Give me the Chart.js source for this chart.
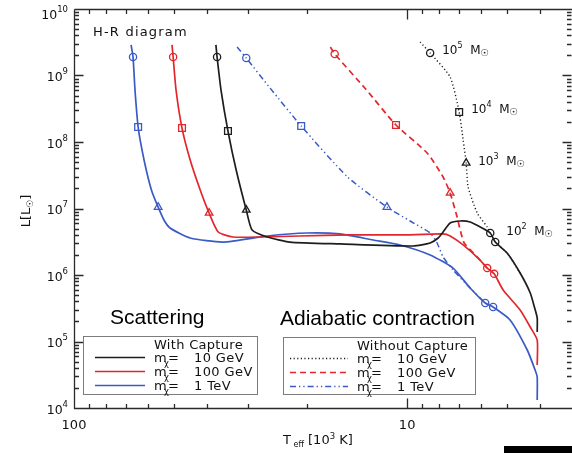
<!DOCTYPE html>
<html>
<head>
<meta charset="utf-8">
<title>H-R diagram</title>
<script src="https://cdn.jsdelivr.net/npm/chart.js@4.4.1/dist/chart.umd.min.js"></script>
<style>
  html, body { margin: 0; padding: 0; background: #fff; }
  #wrap { position: relative; width: 572px; height: 453px; overflow: hidden; }
  #hr { display: block; }
  .strip { position: absolute; left: 504px; top: 446px; width: 68px; height: 7px; background: #000; }
</style>
</head>
<body>
<div id="wrap">
  <canvas id="hr" width="572" height="453"></canvas>
  <div class="strip"></div>
</div>
<script>
(function () {
  // T_eff in units of 10^3 K, L in solar luminosities
  var blackCapT = [37.5, 37.2, 36.2, 34.5, 32.6, 30.4, 29.2, 26.3, 22.5, 15.9, 9.59, 8.53, 8.07, 7.80, 7.43, 6.93, 6.47, 6.04, 5.63, 5.44, 5.01, 4.58, 4.27, 4.15, 4.07, 4.07];
  var blackCapL = [2.88e9, 1.90e9, 6.05e8, 1.46e8, 3.79e7, 9.49e6, 4.75e6, 3.73e6, 3.13e6, 2.93e6, 2.73e6, 3.03e6, 3.60e6, 4.43e6, 6.05e6, 6.49e6, 6.27e6, 5.27e6, 4.28e6, 3.13e6, 2.14e6, 1.07e6, 5.36e5, 3.30e5, 2.26e5, 1.39e5];
  var blackCapMarks = [[1, 'circle'], [3, 'rect'], [5, 'triangle'], [18, 'circle'], [19, 'circle']];

  var redCapT = [50.8, 50.4, 49.4, 47.4, 44.8, 41.8, 39.3, 36.9, 33.3, 27.6, 21.0, 14.8, 10.5, 7.80, 7.43, 6.79, 6.04, 5.75, 5.48, 5.15, 4.58, 4.27, 4.07, 4.07];
  var redCapL = [2.88e9, 1.90e9, 6.05e8, 1.62e8, 5.36e7, 1.90e7, 8.55e6, 4.43e6, 3.73e6, 3.73e6, 3.86e6, 4.00e6, 4.00e6, 4.14e6, 3.86e6, 2.83e6, 1.68e6, 1.27e6, 1.04e6, 5.95e5, 2.98e5, 1.65e5, 1.05e5, 4.43e4];
  var redCapMarks = [[1, 'circle'], [3, 'rect'], [6, 'triangle'], [17, 'circle'], [18, 'circle']];

  var blueCapT = [67.4, 66.5, 65.6, 64.2, 62.5, 60.4, 58.3, 55.9, 53.7, 51.5, 44.8, 35.7, 26.3, 20.0, 15.9, 12.65, 10.5, 8.53, 7.28, 6.47, 5.83, 5.52, 4.91, 4.36, 4.13, 4.07, 4.07];
  var blueCapL = [2.88e9, 1.90e9, 6.05e8, 1.68e8, 7.59e7, 3.42e7, 1.77e7, 1.05e7, 6.71e6, 5.09e6, 3.60e6, 3.13e6, 3.86e6, 4.28e6, 4.14e6, 3.36e6, 2.83e6, 2.00e6, 1.27e6, 6.38e5, 3.79e5, 3.30e5, 2.11e5, 7.45e4, 3.73e4, 2.93e4, 1.32e4];
  var blueCapMarks = [[1, 'circle'], [3, 'rect'], [7, 'triangle'], [20, 'circle'], [21, 'circle']];

  var blackNoCapT = [9.14, 8.53, 7.43, 6.98, 6.79, 6.65, 6.56, 6.16, 5.75, 5.63, 5.44, 5.01, 4.58];
  var blackNoCapL = [3.19e9, 2.18e9, 9.49e8, 2.83e8, 1.07e8, 4.83e7, 2.10e7, 8.55e6, 5.27e6, 4.28e6, 3.13e6, 2.14e6, 1.07e6];
  var blackNoCapMarks = [[1, 'circle'], [3, 'rect'], [5, 'triangle']];

  var redNoCapT = [17.0, 16.5, 13.4, 10.8, 8.71, 7.80, 7.43, 7.08, 6.93, 6.74, 6.20, 5.75];
  var redNoCapL = [2.68e9, 2.11e9, 6.49e8, 1.80e8, 6.83e7, 2.98e7, 1.71e7, 7.45e6, 4.75e6, 3.03e6, 1.93e6, 1.27e6];
  var redNoCapMarks = [[1, 'circle'], [3, 'rect'], [6, 'triangle']];

  var blueNoCapT = [32.4, 30.4, 25.8, 20.8, 15.1, 11.5, 9.80, 8.53, 8.13, 7.80, 7.28, 6.47, 5.83];
  var blueNoCapL = [2.68e9, 1.83e9, 6.49e8, 1.74e8, 2.98e7, 1.05e7, 6.49e6, 4.28e6, 3.03e6, 1.87e6, 1.19e6, 6.38e5, 3.79e5];
  var blueNoCapMarks = [[1, 'circle'], [3, 'rect'], [5, 'triangle']];

  // axis ticks
  var yDecades = [4, 5, 6, 7, 8, 9, 10];
  var xMajor = [100, 10];
  var xMajorLabels = ['100', '10'];
  var xMinor = [90, 80, 70, 60, 50, 40, 30, 20, 9, 8, 7, 6, 5, 4];

  // stellar masses along the 10 GeV track (index into blackNoCap)
  var massExp = ['5', '4', '3', '2'];
  var massAt = [1, 3, 5, 9];

  var massNames = ['10 GeV', '100 GeV', '1 TeV'];

  var FONT = '"DejaVu Sans", sans-serif';
  var SANS = '"Liberation Sans", Arial, sans-serif';
  var INK = '#1d1d1d';
  var RED = '#e2272c';
  var BLUE = '#3a5ac6';
  var FRAME = '#2a2a2a';
  var DOT = [1.2, 2.4];
  var DASH = [6, 4];
  var DASHDOT = [6, 3, 1.3, 3, 1.3, 3];
  var MARK_R = { circle: 3.6, rect: 4.8, triangle: 4.4 };

  function makeSet(label, ts, ls, marks, color, dash, width) {
    var style = ts.map(function () { return null; });
    marks.forEach(function (m) { style[m[0]] = m[1]; });
    return {
      label: label,
      data: ts.map(function (t, i) { return { x: t, y: ls[i] }; }),
      borderColor: color,
      borderWidth: width,
      borderDash: dash,
      pointStyle: style.map(function (s) { return s || 'circle'; }),
      pointRadius: style.map(function (s) { return s ? MARK_R[s] : 0; }),
      pointHoverRadius: 0,
      pointBorderColor: color,
      pointBackgroundColor: 'rgba(0,0,0,0)',
      pointBorderWidth: 1.3,
      tension: 0.2,
      fill: false
    };
  }

  // text made of pieces in different sizes: [text, size, dy, letterSpacing]
  function runsWidth(ctx, parts, family) {
    var w = 0;
    parts.forEach(function (p) {
      ctx.font = p[1] + 'px ' + (family || FONT);
      ctx.letterSpacing = (p[3] || 0) + 'px';
      w += ctx.measureText(p[0]).width;
    });
    ctx.letterSpacing = '0px';
    return w;
  }

  function runs(ctx, x, y, parts, family) {
    parts.forEach(function (p) {
      ctx.font = p[1] + 'px ' + (family || FONT);
      ctx.letterSpacing = (p[3] || 0) + 'px';
      ctx.fillText(p[0], x, y + (p[2] || 0));
      x += ctx.measureText(p[0]).width;
    });
    ctx.letterSpacing = '0px';
    return x;
  }

  function crisp(v) { return Math.round(v) + 0.5; }

  function drawFrame(chart) {
    var ctx = chart.ctx, a = chart.chartArea;
    var xs = chart.scales.x, ys = chart.scales.y;
    var left = crisp(a.left), top = crisp(a.top), bottom = crisp(a.bottom), right = a.right - 0.5;

    ctx.save();
    ctx.strokeStyle = FRAME;
    ctx.lineWidth = 1.3;
    ctx.beginPath();
    ctx.moveTo(left, top);
    ctx.lineTo(left, bottom);
    ctx.lineTo(a.right, bottom);
    ctx.moveTo(left, top);
    ctx.lineTo(a.right, top);

    function yTick(v, len) {
      var y = crisp(ys.getPixelForValue(v));
      ctx.moveTo(left, y); ctx.lineTo(left + len, y);
      ctx.moveTo(right, y); ctx.lineTo(right - len, y);
    }
    function xTick(v, len) {
      var x = crisp(xs.getPixelForValue(v));
      ctx.moveTo(x, bottom); ctx.lineTo(x, bottom - len);
      ctx.moveTo(x, top); ctx.lineTo(x, top + len);
    }

    yDecades.forEach(function (e, i) {
      var base = Math.pow(10, e);
      yTick(base, 9);
      if (i < yDecades.length - 1) {
        for (var k = 2; k <= 9; k++) yTick(k * base, 4.5);
      }
    });
    xMajor.forEach(function (v) { xTick(v, 10); });
    xMinor.forEach(function (v) { xTick(v, 4.5); });
    ctx.stroke();

    ctx.fillStyle = '#111';
    ctx.textBaseline = 'alphabetic';
    ctx.textAlign = 'left';
    yDecades.forEach(function (e) {
      var y = ys.getPixelForValue(Math.pow(10, e));
      var parts = [['10', 12.5, 0], [String(e), 8.5, -7]];
      var w = runsWidth(ctx, parts);
      runs(ctx, a.left - 6 - w, Math.max(y + 5.5, 18.5), parts);
    });

    ctx.textAlign = 'center';
    ctx.font = '13px ' + FONT;
    xMajor.forEach(function (v, i) {
      ctx.fillText(xMajorLabels[i], xs.getPixelForValue(v), 429);
    });

    // axis titles
    ctx.textAlign = 'left';
    runs(ctx, 283, 444, [['T', 13, 0], [' eff', 8, 3], [' [10', 13, 0], ['3', 8.5, -5], [' K]', 13, 0]]);

    ctx.save();
    ctx.translate(29.5, 211);
    ctx.rotate(-Math.PI / 2);
    var yTitle = [['L[L', 13, 0], ['\u2609', 9, 3], [']', 13, 0]];
    runs(ctx, -runsWidth(ctx, yTitle) / 2, 0, yTitle);
    ctx.restore();

    runs(ctx, 93, 36, [['H-R diagram', 13, 0, 1.2]]);
    ctx.restore();
  }

  function drawMassLabels(chart) {
    var ctx = chart.ctx, xs = chart.scales.x, ys = chart.scales.y;
    ctx.save();
    ctx.fillStyle = '#111';
    ctx.textAlign = 'left';
    ctx.textBaseline = 'alphabetic';
    massExp.forEach(function (e, i) {
      var j = massAt[i];
      var x = xs.getPixelForValue(blackNoCapT[j]);
      var y = ys.getPixelForValue(blackNoCapL[j]);
      var dx = i === 3 ? 16 : 12;
      runs(ctx, x + dx, y + 1.5, [['10', 12, 0], [e, 8, -6], ['  M', 12, 0], ['\u2609', 9.5, 2]]);
    });
    ctx.restore();
  }

  function drawLegend(ctx, box, header, textX, lineX0, lineX1, colors, dashes) {
    ctx.save();
    ctx.fillStyle = '#fff';
    ctx.fillRect(box[0], box[1], box[2], box[3]);
    ctx.strokeStyle = '#7c7c7c';
    ctx.lineWidth = 1;
    ctx.strokeRect(box[0] + 0.5, box[1] + 0.5, box[2], box[3]);

    ctx.fillStyle = '#111';
    ctx.textAlign = 'left';
    ctx.textBaseline = 'alphabetic';
    runs(ctx, textX, box[1] + 13, [[header, 13, 0, 0.3]]);

    massNames.forEach(function (name, i) {
      var lineY = box[1] + 21.5 + i * 14;
      var base = box[1] + 26 + i * 14;
      ctx.strokeStyle = colors[i];
      ctx.lineWidth = 1.7;
      ctx.setLineDash(dashes[i]);
      ctx.beginPath();
      ctx.moveTo(lineX0, lineY);
      ctx.lineTo(lineX1, lineY);
      ctx.stroke();
      ctx.setLineDash([]);

      runs(ctx, textX, base, [['m', 13, 0]]);
      runs(ctx, textX + 10, base + 4, [['\u03c7', 8.5, 0]]);
      runs(ctx, textX + 14, base, [['=', 13, 0]]);
      runs(ctx, textX + 40, base, [[name, 13, 0, 0.4]]);
    });
    ctx.restore();
  }

  var decor = {
    id: 'hrDecor',
    afterDatasetsDraw: function (chart) {
      var ctx = chart.ctx;
      drawFrame(chart);
      drawMassLabels(chart);

      ctx.save();
      ctx.fillStyle = '#000';
      ctx.textAlign = 'left';
      ctx.font = '21px ' + SANS;
      ctx.fillText('Scattering', 110, 324);
      ctx.fillText('Adiabatic contraction', 280, 325);
      ctx.restore();

      drawLegend(ctx, [83, 336, 174, 58], 'With Capture', 154, 95, 145,
        [INK, RED, BLUE], [[], [], []]);
      drawLegend(ctx, [283, 337, 192, 57], 'Without Capture', 357, 290, 348,
        [INK, RED, BLUE], [DOT, DASH, DASHDOT]);
    }
  };

  new Chart(document.getElementById('hr'), {
    type: 'line',
    data: {
      datasets: [
        makeSet('With capture, 10 GeV', blackCapT, blackCapL, blackCapMarks, INK, [], 1.7),
        makeSet('With capture, 100 GeV', redCapT, redCapL, redCapMarks, RED, [], 1.7),
        makeSet('With capture, 1 TeV', blueCapT, blueCapL, blueCapMarks, BLUE, [], 1.7),
        makeSet('Without capture, 10 GeV', blackNoCapT, blackNoCapL, blackNoCapMarks, INK, DOT, 1.4),
        makeSet('Without capture, 100 GeV', redNoCapT, redNoCapL, redNoCapMarks, RED, DASH, 1.7),
        makeSet('Without capture, 1 TeV', blueNoCapT, blueNoCapL, blueNoCapMarks, BLUE, DASHDOT, 1.5)
      ]
    },
    options: {
      responsive: false,
      devicePixelRatio: 1,
      animation: false,
      layout: { padding: { top: 9, right: 0, bottom: 0, left: 0 } },
      plugins: { legend: { display: false }, tooltip: { enabled: false } },
      scales: {
        x: {
          type: 'logarithmic',
          reverse: true,
          min: 3.2,
          max: 100,
          ticks: { display: false },
          grid: { display: false },
          border: { display: false },
          afterFit: function (scale) { scale.height = 45; }
        },
        y: {
          type: 'logarithmic',
          min: 1e4,
          max: 1e10,
          ticks: { display: false },
          grid: { display: false },
          border: { display: false },
          afterFit: function (scale) { scale.width = 74; }
        }
      }
    },
    plugins: [decor]
  });
})();
</script>
</body>
</html>
